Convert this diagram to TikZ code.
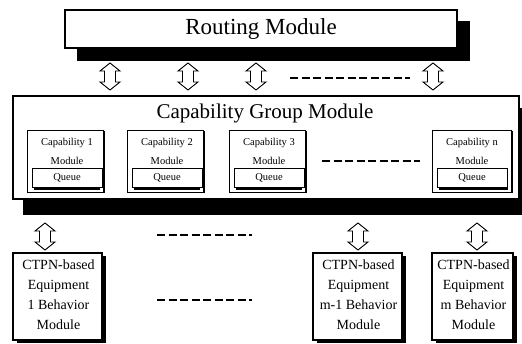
\documentclass[tikz,border=0pt]{standalone}
\usepackage{fontspec}
\setmainfont{Liberation Serif}
\newcommand\updownarr[4]{% name, x, ytop, ybot
  \coordinate (#1) at (#2,{(#3+#4)/2});
  \draw[arr] (#2,#3) -- (#2+10,#3+8) -- (#2+5.5,#3+8) -- (#2+5.5,#4-8) -- (#2+10,#4-8)
    -- (#2,#4) -- (#2-10,#4-8) -- (#2-5.5,#4-8) -- (#2-5.5,#3+8) -- (#2-10,#3+8) -- cycle;}
\newcommand\capmod[4]{% name, left x, width, label
  \fill[shade] (#2+1.5,131.5) rectangle (#2+#3+1.5,193.5);
  \node[box, line width=0.9pt, minimum width=#3 pt, minimum height=62pt, anchor=north west] (#1) at (#2,130) {};
  \node[captext] (#1t) at (#2+40,143) {#4};
  \node[captext] (#1m) at (#2+40,161) {Module};
  \fill[shade] (#2+7,170) rectangle (#2+#3-3,190);
  \node[box, line width=0.9pt, minimum width=70pt, minimum height=19pt, anchor=north west, captext] (#1q) at (#2+5,168.5) {Queue};}
\newcommand\equip[4]{% name, left x, width, label line
  \fill[shade] (#2+4,256) rectangle (#2+#3+3.5,343.5);
  \node[box, minimum width=#3 pt, minimum height=87pt, anchor=north west] (#1) at (#2,253) {};
  \node[eqtext] (#1t) at (#2+#3/2+1,295) {CTPN-based\\Equipment\\#4\\Module};}
\begin{document}
\begin{tikzpicture}[x=1pt,y=-1pt,
  box/.style={draw, line width=1.1pt, fill=white, inner sep=0pt, outer sep=0pt},
  shade/.style={fill=black},
  arr/.style={draw, line width=0.9pt, fill=white, line join=miter},
  dashline/.style={line width=2.6pt, dash pattern=on 8pt off 3.5pt},
  captext/.style={font=\fontsize{10.5}{12}\selectfont, inner sep=0pt},
  eqtext/.style={font=\fontsize{14}{20}\selectfont, align=center, inner sep=0pt}]
\useasboundingbox (0,0) rectangle (522,344);
\fill[white] (0,0) rectangle (522,344);

% Routing module
\fill[shade] (77,21) rectangle (470,61);
\node[box, minimum width=392pt, minimum height=38pt, anchor=north west,
  font=\fontsize{23}{26}\selectfont] (routing) at (65,10) {};
\node[font=\fontsize{23}{26}\selectfont, inner sep=0pt] (routingt) at (261,29) {Routing Module};

% arrows top
\updownarr{a1}{110}{63}{90}
\updownarr{a2}{188}{63}{90}
\updownarr{a3}{256}{63}{90}
\updownarr{a4}{433}{63}{90}
\coordinate (d1s) at (290,78);
\coordinate (d1e) at (410,78);
\draw[dashline] (d1s) -- (d1e);

% Capability group module
\fill[shade] (23,108) rectangle (522,215);
\node[box, minimum width=506pt, minimum height=103pt, anchor=north west] (group) at (13,96) {};
\node[font=\fontsize{21}{24}\selectfont, inner sep=0pt] (groupt) at (265,113) {Capability Group Module};

\capmod{c1}{27}{76}{Capability 1}
\capmod{c2}{127}{76}{Capability 2}
\capmod{c3}{229}{76}{Capability 3}
\capmod{cn}{432}{79}{Capability n}
\coordinate (d2s) at (322,161);
\coordinate (d2e) at (420,161);
\draw[dashline] (d2s) -- (d2e);

% arrows bottom
\updownarr{b1}{45}{223}{250}
\updownarr{b2}{358}{223}{250}
\updownarr{b3}{477}{223}{250}
\coordinate (d3s) at (157,235);
\coordinate (d3e) at (252,235);
\draw[dashline] (d3s) -- (d3e);
\coordinate (d4s) at (157,300);
\coordinate (d4e) at (252,300);
\draw[dashline] (d4s) -- (d4e);

% Equipment modules
\equip{e1}{13}{89}{1 Behavior}
\equip{e2}{313}{89}{m-1 Behavior}
\equip{e3}{432}{81}{m Behavior}
\end{tikzpicture}
\end{document}
